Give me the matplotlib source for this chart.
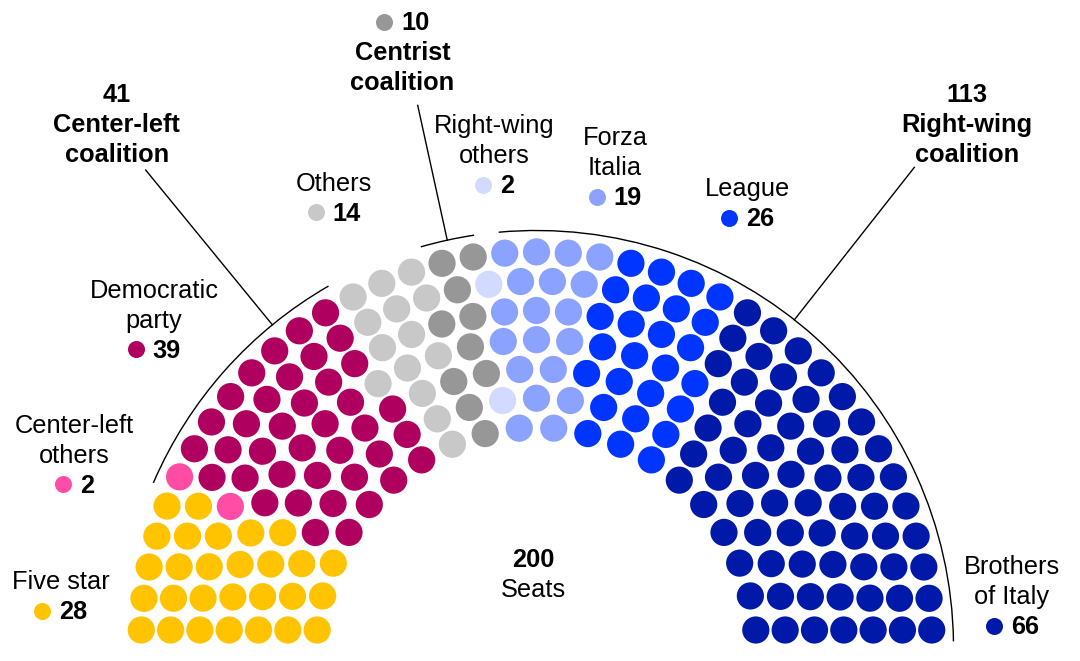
#!/usr/bin/env python3

import numpy as np
import matplotlib
matplotlib.use("Agg")
import matplotlib.pyplot as plt
from matplotlib.patches import Circle, Arc

# parties, left to right
parties = ["Five star", "Center-left others", "Democratic party", "Others",
           "Centrist", "Right-wing others", "Forza Italia", "League",
           "Brothers of Italy"]
seats = [28, 2, 39, 14, 10, 2, 19, 26, 66]
colors = ["#ffc300", "#ff4da6", "#b0005f", "#c8c8c8", "#979797",
          "#d3daff", "#8ca2ff", "#0035ff", "#0019a8"]
total_label = 200

# coalitions: (number, name lines, first party, last party)
coalitions = [("41", ["Center-left", "coalition"], 1, 2),
              ("10", ["Centrist", "coalition"], 4, 4),
              ("113", ["Right-wing", "coalition"], 5, 8)]

# geometry (pixel-like units, origin at hemicycle centre)
row_seats = [20, 23, 26, 29, 33, 36, 39]
r_inner = 220.0
r_step = 29.27
lift = 17.5
seat_r = 13.6
arc_r = 417

plt.rcParams['font.family'] = ['Liberation Sans', 'DejaVu Sans']

fig = plt.figure(figsize=(10.8, 6.61), dpi=100)
ax = fig.add_axes([0, 0, 1, 1])
ax.set_xlim(-536.5, 543.5)
ax.set_ylim(-13.5, 647.5)
ax.axis('off')
renderer = fig.canvas.get_renderer()

def img(x, y):
    return x - 536.5, 647.5 - y

# seat positions, row by row, then sorted left to right by angle
pos = []
for i, n in enumerate(row_seats):
    r = r_inner + i * r_step
    t0 = np.arcsin(lift / r)
    for t in np.linspace(np.pi - t0, t0, n):
        pos.append((t, r))
pos = np.array(pos)
order = np.lexsort((pos[:, 1], -pos[:, 0]))
pos = pos[order]

party_idx = np.repeat(np.arange(len(seats)), seats)
for (t, r), p in zip(pos, party_idx):
    ax.add_patch(Circle((r * np.cos(t), r * np.sin(t)), seat_r,
                        color=colors[p], lw=0))

# coalition arcs, following the outer row
coal_of = np.full(len(seats), -1)
for k, c in enumerate(coalitions):
    coal_of[c[2]:c[3] + 1] = k
outer = pos[:, 1] == pos[:, 1].max()
o_ang = np.degrees(pos[outer, 0])
o_coal = coal_of[party_idx[outer]]
half = (o_ang[0] - o_ang[1]) / 2
gap = 1.7
lead_ang = [129.3, None, 51.8]
lead_len = [617, 555, 611]
for k in range(len(coalitions)):
    js = np.where(o_coal == k)[0]
    j0, j1 = js[0], js[-1]
    if j0 == 0:
        hi = o_ang[j0] + gap
    else:
        hi = o_ang[j0] + half - (gap if o_coal[j0 - 1] >= 0 else 0)
    if j1 == len(o_ang) - 1:
        lo = o_ang[j1] - gap
    else:
        lo = o_ang[j1] - half + (gap if o_coal[j1 + 1] >= 0 else 0)
    ax.add_patch(Arc((0, 0), 2 * arc_r, 2 * arc_r, theta1=lo, theta2=hi,
                     color="black", lw=1.0))
    la = lead_ang[k] if lead_ang[k] is not None else (hi + lo) / 2
    la = np.radians(la)
    ax.plot([arc_r * np.cos(la), lead_len[k] * np.cos(la)],
            [arc_r * np.sin(la), lead_len[k] * np.sin(la)],
            color="black", lw=1.0)

fs = 18.3
dot_d = 17
dot_gap = 8.5

def count_line(cx, base, p):
    # coloured dot + bold count, centred on cx
    t = ax.text(*img(0, base), str(seats[p]), ha="left", va="baseline",
                fontsize=fs, fontweight="bold")
    w = t.get_window_extent(renderer).width
    left = cx - (dot_d + dot_gap + w) / 2
    t.set_x(img(left + dot_d + dot_gap, 0)[0])
    ax.plot(*img(left + dot_d / 2, base - 8.3), "o", ms=dot_d / 1.389,
            color=colors[p], mec="none")

def party_label(cx, base, lines, p):
    for i, s in enumerate(lines):
        ax.text(*img(cx, base + 30 * i), s, ha="center", va="baseline",
                fontsize=fs)
    count_line(cx, base + 30 * len(lines), p)

party_label(60.5, 589.3, ["Five star"], 0)
party_label(74, 432.7, ["Center-left", "others"], 1)
party_label(154, 297.7, ["Democratic", "party"], 2)
party_label(334, 190.7, ["Others"], 3)
party_label(494.2, 133.3, ["Right-wing", "others"], 5)
party_label(615, 145, ["Forza", "Italia"], 6)
party_label(747.5, 196, ["League"], 7)
party_label(1012, 574, ["Brothers", "of Italy"], 8)

# centrist coalition: dot + count on top, name below
count_line(402.6, 30, 4)
for i, s in enumerate(coalitions[1][1]):
    ax.text(*img(402.6, 60 + 30 * i), s, ha="center", va="baseline",
            fontsize=fs, fontweight="bold")

for (num, lines, a, b), cx in [(coalitions[0], 116.7), (coalitions[2], 966.7)]:
    for i, s in enumerate([num] + lines):
        ax.text(*img(cx, 102.3 + 30 * i), s, ha="center", va="baseline",
                fontsize=fs, fontweight="bold")

ax.text(*img(533.5, 566.7), str(total_label), ha="center", va="baseline",
        fontsize=fs, fontweight="bold")
ax.text(*img(533.5, 597.3), "Seats", ha="center", va="baseline", fontsize=fs)

fig.savefig("out.png", dpi=100)
